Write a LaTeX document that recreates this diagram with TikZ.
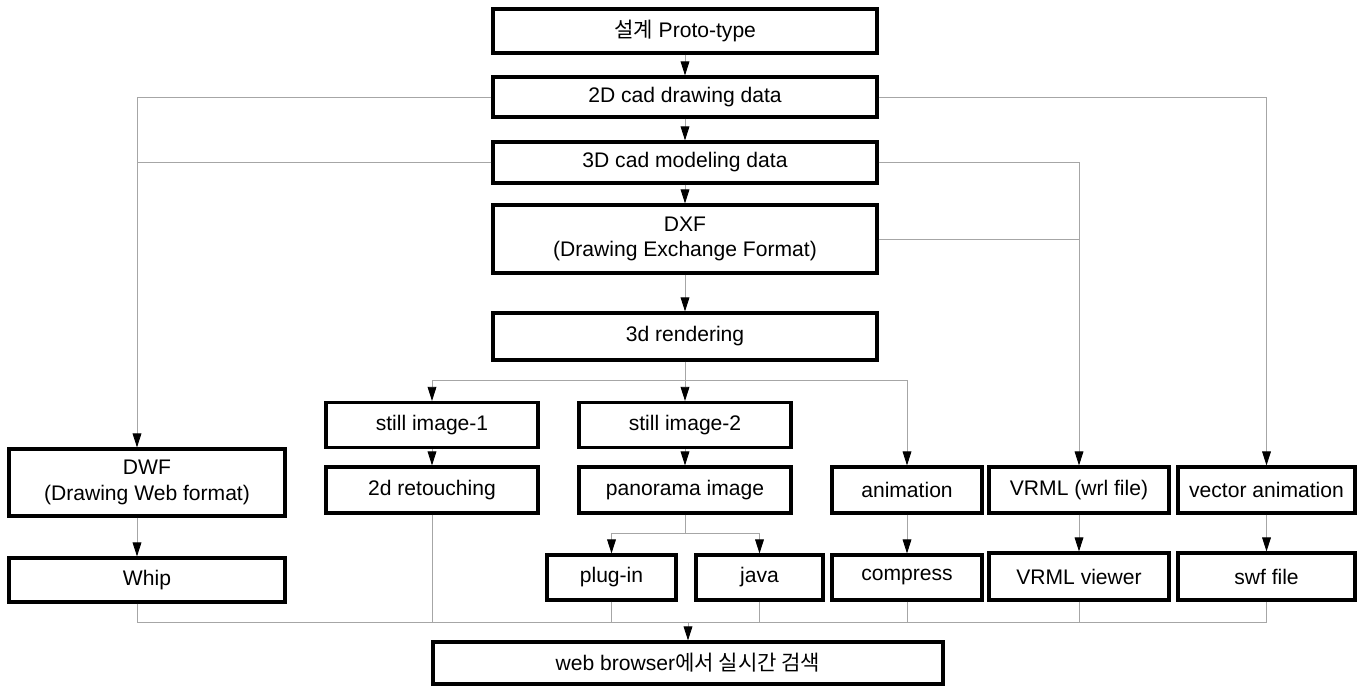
\documentclass[tikz,border=0pt]{standalone}
\usepackage{fontspec}
\setmainfont{Liberation Sans}
\newfontfamily\krfont{Noto Sans CJK KR}
\usetikzlibrary{positioning, arrows.meta}

\begin{document}
\begin{tikzpicture}[
	x=0.02cm, y=-0.02cm,
	box/.style={
		rectangle,
		draw=black,
		line width=1.8pt,
		fill=white,
		minimum width=4.24cm,
		minimum height=0.9cm,
		inner sep=2pt,
		align=center,
		font=\fontsize{12}{14.5}\selectfont
	},
	link/.style={
		gray!70,
		line width=0.5pt
	},
	flecha/.style={
		link,
		-{Triangle[length=8pt,width=5pt,color=black]}
	}
	]
	\useasboundingbox (0,0) rectangle (1364,688);
	% main column
	\node[box, minimum width=7.68cm, minimum height=0.88cm] (proto) at (685,31)
	{{\krfont 설계} Proto-type};
	\node[box, minimum width=7.68cm, minimum height=0.8cm] (cad2) at (685,97)
	{2D cad drawing data};
	\node[box, minimum width=7.68cm, minimum height=0.82cm] (cad3) at (685,162.5)
	{3D cad modeling data};
	\node[box, minimum width=7.68cm, minimum height=1.36cm] (dxf) at (685,239)
	{DXF\\(Drawing Exchange Format)};
	\node[box, minimum width=7.68cm, minimum height=0.94cm] (render) at (685,336.5)
	{3d rendering};
	% rendered images
	\node[box] (still1) at (432,425) {still image-1};
	\node[box] (still2) at (685,425) {still image-2};
	% output formats
	\node[box, minimum width=5.52cm, minimum height=1.34cm] (dwf) at (147,482.5)
	{DWF\\(Drawing Web format)};
	\node[box, minimum height=0.92cm] (retouch) at (432,490) {2d retouching};
	\node[box, minimum height=0.92cm] (pano) at (685,490) {panorama image};
	\node[box, minimum width=3cm, minimum height=0.92cm] (anim) at (907,490)
	{animation};
	\node[box, minimum width=3.6cm, minimum height=0.92cm] (vrml) at (1079,490)
	{VRML (wrl file)};
	\node[box, minimum width=3.54cm, minimum height=0.92cm] (vector) at (1266.5,490)
	{vector animation};
	% viewers
	\node[box, minimum width=5.52cm, minimum height=0.88cm] (whip) at (147,580)
	{Whip};
	\node[box, minimum width=2.58cm] (plugin) at (611.5,577.5) {plug-in};
	\node[box, minimum width=2.54cm] (java) at (759.5,577.5) {java};
	\node[box, minimum width=3cm] (compress) at (907,577.5) {compress};
	\node[box, minimum width=3.6cm, minimum height=0.94cm] (vrmlview) at (1079,576.5)
	{VRML viewer};
	\node[box, minimum width=3.54cm, minimum height=0.94cm] (swf) at (1266.5,576.5)
	{swf file};
	\node[box, minimum width=10.2cm, minimum height=0.84cm] (web) at (688,663)
	{web browser{\krfont 에서 실시간 검색}};
	% main column arrows
	\draw[flecha] (proto) -- (cad2);
	\draw[flecha] (cad2) -- (cad3);
	\draw[flecha] (cad3) -- (dxf);
	\draw[flecha] (dxf) -- (render);
	% left branch
	\coordinate (dwfin) at ([xshift=-0.2cm]dwf.north);
	\draw[flecha] (cad2.west) -| (dwfin);
	\draw[link] (cad3.west) -- (cad3.west -| dwfin);
	\draw[flecha] ([xshift=-0.2cm]dwf.south) -- ([xshift=-0.2cm]whip.north);
	% right branches
	\draw[flecha] (cad2.east) -| (vector);
	\draw[flecha] (cad3.east) -| (vrml);
	\draw[link] (dxf.east) -- (dxf.east -| vrml);
	% rendering
	\coordinate (split) at (685,380);
	\draw[link] (render) -- (split);
	\draw[flecha] (split) -| (still1);
	\draw[flecha] (split) -- (still2);
	\draw[flecha] (split) -| (anim);
	\draw[flecha] (still1) -- (retouch);
	\draw[flecha] (still2) -- (pano);
	\coordinate (psplit) at (685,533);
	\draw[link] (pano) -- (psplit);
	\draw[flecha] (psplit) -| (plugin);
	\draw[flecha] (psplit) -| (java);
	\draw[flecha] (anim) -- (compress);
	\draw[flecha] (vrml) -- (vrmlview);
	\draw[flecha] (vector) -- (swf);
	% everything ends in the browser
	\coordinate (merge) at (688,622);
	\foreach \n in {retouch, plugin, java, compress, vrmlview, swf}
	\draw[link] (\n) |- (merge);
	\draw[link] ([xshift=-0.2cm]whip.south) |- (merge);
	\draw[flecha] (merge) -- (web);
\end{tikzpicture}
\end{document}
